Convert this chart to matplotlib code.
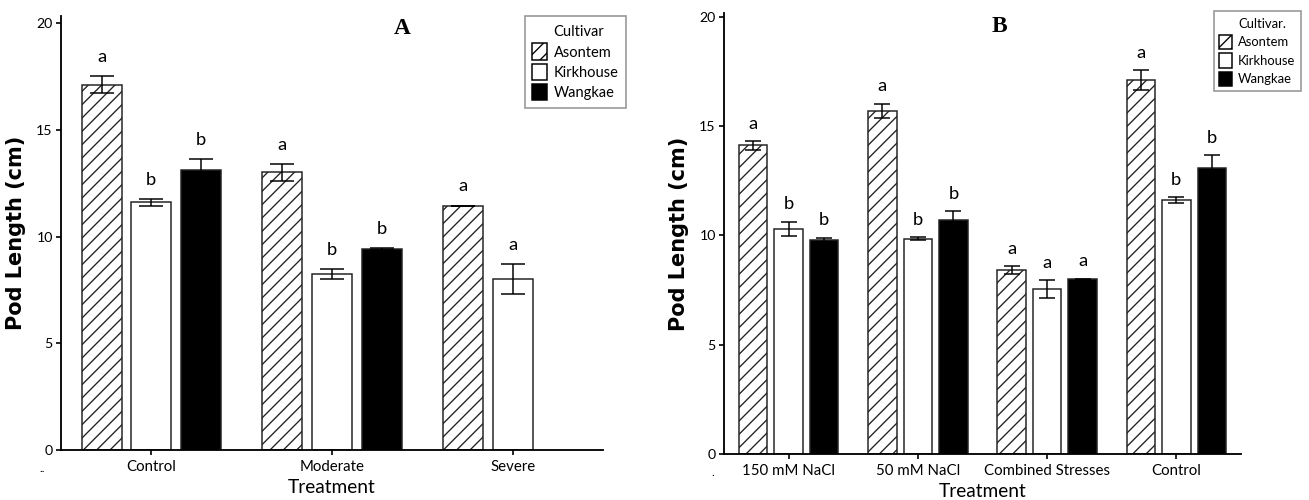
import numpy as np
import matplotlib
matplotlib.use("Agg")
import matplotlib.pyplot as plt
from matplotlib.patches import Patch

# =========================================================
# DATA
# =========================================================

cultivars = ["Asontem", "Kirkhouse", "Wangkae"]

# panel A: drought levels
a_treatments = ["Control", "Moderate", "Severe"]
a_asontem = [17.1, 13.0, 11.45]
a_asontem_err = [0.4, 0.4, 0.0]
a_kirkhouse = [11.6, 8.25, 8.0]
a_kirkhouse_err = [0.15, 0.22, 0.7]
a_wangkae = [13.1, 9.4, np.nan]
a_wangkae_err = [0.53, 0.05, np.nan]
a_letters = [["a", "a", "a"], ["b", "b", "a"], ["b", "b", ""]]

# panel B: salt / combined stresses
b_treatments = ["150 mM NaCl", "50 mM NaCl", "Combined Stresses", "Control"]
b_asontem = [14.12, 15.7, 8.4, 17.1]
b_asontem_err = [0.2, 0.32, 0.18, 0.46]
b_kirkhouse = [10.3, 9.85, 7.55, 11.62]
b_kirkhouse_err = [0.33, 0.06, 0.4, 0.14]
b_wangkae = [9.8, 10.72, 8.0, 13.07]
b_wangkae_err = [0.1, 0.38, 0.03, 0.6]
b_letters = [["a", "a", "a", "a"], ["b", "b", "a", "b"], ["b", "b", "a", "b"]]

# =========================================================
# STYLE
# =========================================================

plt.rcParams["font.family"] = ["Lato", "DejaVu Sans"]
plt.rcParams["hatch.linewidth"] = 0.8

styles = [
    dict(facecolor="white", hatch="///"),
    dict(facecolor="white", hatch=""),
    dict(facecolor="black", hatch=""),
]

WIDTH = 0.22
STEP = 0.275

fig = plt.figure(figsize=(1309 / 120, 500 / 120), dpi=120)

ax_a = fig.add_axes([61 / 1309, 0.1, 542 / 1309, 434 / 500])
ax_b = fig.add_axes([724 / 1309, 46 / 500, 517 / 1309, 441 / 500])


def draw_panel(ax, treatments, series, errors, letters, capsize, ytop, letter_gap):

    x = np.arange(len(treatments))

    for i, (vals, errs) in enumerate(zip(series, errors)):

        pos = x + (i - 1) * STEP

        ax.bar(
            pos,
            vals,
            width=WIDTH,
            edgecolor="#222222",
            linewidth=0.9,
            **styles[i]
        )

        ax.errorbar(
            pos,
            vals,
            yerr=errs,
            fmt="none",
            ecolor="black",
            elinewidth=0.9,
            capsize=capsize,
            capthick=0.9
        )

        for p, v, e, lab in zip(pos, vals, errs, letters[i]):
            if lab and not np.isnan(v):
                ax.text(p, v + e + letter_gap, lab,
                        ha="center", va="center", fontsize=11)

    ax.set_xlim(-0.5, len(treatments) - 0.5)
    ax.set_ylim(0, ytop)
    ax.set_yticks([0, 5, 10, 15, 20])
    ax.set_xticks(x)
    ax.set_xticklabels(treatments, fontsize=9)
    ax.tick_params(axis="y", labelsize=8.5, length=3, width=1, pad=2)
    ax.tick_params(axis="x", length=3, width=1, pad=3)

    ax.spines["top"].set_visible(False)
    ax.spines["right"].set_visible(False)
    ax.spines["left"].set_linewidth(1.1)
    ax.spines["bottom"].set_linewidth(1.1)

    ax.set_xlabel("Treatment", fontsize=11.5, labelpad=3)
    ax.set_ylabel("Pod Length (cm)", fontsize=12.5, fontweight="bold",
                  family="DejaVu Sans", labelpad=6)


draw_panel(
    ax_a,
    a_treatments,
    [a_asontem, a_kirkhouse, a_wangkae],
    [a_asontem_err, a_kirkhouse_err, a_wangkae_err],
    a_letters,
    capsize=7,
    ytop=20.33,
    letter_gap=0.9
)

draw_panel(
    ax_b,
    b_treatments,
    [b_asontem, b_kirkhouse, b_wangkae],
    [b_asontem_err, b_kirkhouse_err, b_wangkae_err],
    b_letters,
    capsize=5,
    ytop=20.18,
    letter_gap=0.8
)

# =========================================================
# LEGENDS
# =========================================================


def add_legend(ax, title, anchor, size, spacing, pad):

    handles = [Patch(visible=False)]
    for st in styles:
        handles.append(Patch(edgecolor="black", linewidth=0.9, **st))

    leg = ax.legend(
        handles,
        [title] + cultivars,
        loc="upper left",
        bbox_to_anchor=anchor,
        bbox_transform=fig.transFigure,
        borderaxespad=0,
        fontsize=size,
        handlelength=1.0,
        handleheight=1.35,
        handletextpad=0.45,
        labelspacing=spacing,
        borderpad=pad,
        fancybox=False,
        edgecolor="#999999",
        framealpha=1
    )
    leg.get_frame().set_linewidth(1.0)


add_legend(ax_a, "Cultivar", (525 / 1309, 1 - 16 / 500), 8.8, 0.25, 0.5)
add_legend(ax_b, "Cultivar.", (1214 / 1309, 1 - 11 / 500), 7.8, 0.3, 0.4)

# =========================================================
# PANEL LETTERS AND STRAY MARKS
# =========================================================

fig.text(402 / 1309, 1 - 28 / 500, "A", ha="center", va="center",
         fontsize=14, fontweight="bold", family="Liberation Serif")
fig.text(999 / 1309, 1 - 27 / 500, "B", ha="center", va="center",
         fontsize=14, fontweight="bold", family="Liberation Serif")

fig.text(42 / 1309, 1 - 468 / 500, "..", ha="center", va="center", fontsize=7)
fig.text(713 / 1309, 1 - 472 / 500, ".", ha="center", va="center", fontsize=7)

fig.savefig("out.png", dpi=120)
